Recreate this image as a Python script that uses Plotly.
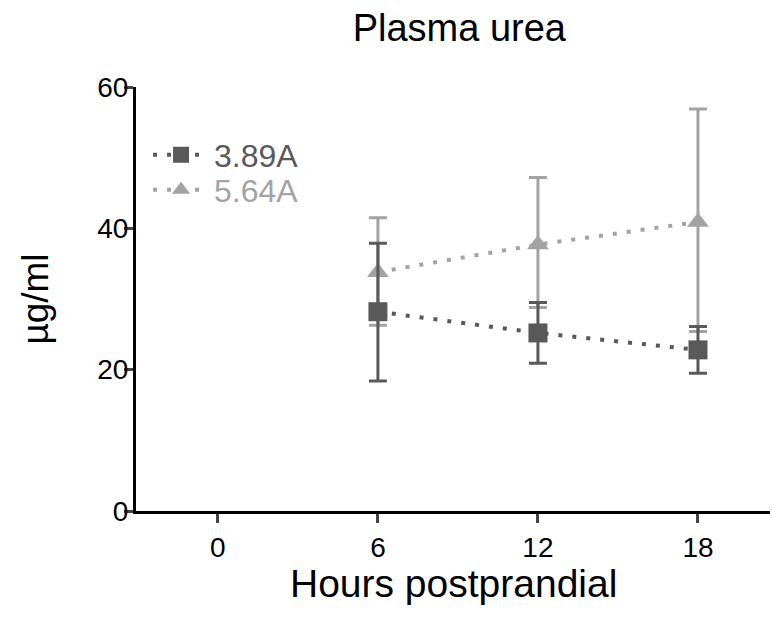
import plotly.graph_objects as go

hours = [6, 12, 18]
s1_name = "3.89A"
s1_mean = [28.2, 25.2, 22.8]
s1_upper = [37.9, 29.5, 26.1]
s1_lower = [18.4, 20.9, 19.5]
s2_name = "5.64A"
s2_mean = [33.8, 37.7, 40.9]
s2_upper = [41.5, 47.2, 56.9]
s2_lower = [26.3, 28.8, 25.4]
x_ticks = [0, 6, 12, 18]
y_ticks = [0, 20, 40, 60]

dark = "#595959"
light = "#a3a3a3"

fig = go.Figure()

def add_series(name, mean, upper, lower, color, symbol, legend):
    fig.add_trace(go.Scatter(
        x=hours, y=mean, mode="lines+markers",
        name=f"<span style='color:{color}'>{name}</span>",
        legend=legend, showlegend=True,
        line=dict(color=color, width=4, dash="4px,10px"),
        marker=dict(symbol=symbol, size=19, color=color),
        error_y=dict(type="data", symmetric=False,
                     array=[u - m for u, m in zip(upper, mean)],
                     arrayminus=[m - l for m, l in zip(mean, lower)],
                     color=color, thickness=3, width=9),
    ))

add_series(s2_name, s2_mean, s2_upper, s2_lower, light, "triangle-up", "legend2")
add_series(s1_name, s1_mean, s1_upper, s1_lower, dark, "square", "legend")

legend_style = dict(xanchor="left", yanchor="middle", font=dict(size=32),
                    bgcolor="rgba(0,0,0,0)", itemwidth=56)

fig.update_layout(
    width=772, height=618,
    showlegend=True,
    margin=dict(l=136, r=2, t=87, b=107),
    paper_bgcolor="white", plot_bgcolor="white",
    font=dict(family="Liberation Sans, Arial, sans-serif", color="black"),
    title=dict(text="Plasma urea", x=0.595, xanchor="center", y=0.955, yanchor="middle",
               font=dict(size=38, color="black")),
    legend=dict(x=0.019, y=0.84, **legend_style),
    legend2=dict(x=0.019, y=0.757, **legend_style),
    xaxis=dict(range=[-3.07, 20.7], tickvals=x_ticks, ticks="outside", ticklen=9, tickwidth=3,
               showline=True, linecolor="black", linewidth=3, showgrid=False, zeroline=False,
               tickfont=dict(size=28)),
    yaxis=dict(range=[0, 60], tickvals=y_ticks, ticks="outside", ticklen=9, tickwidth=3,
               ticklabelstandoff=-10,
               showline=True, linecolor="black", linewidth=3, showgrid=False, zeroline=False,
               tickfont=dict(size=28), title=dict(text="µg/ml", font=dict(size=37), standoff=38)),
    annotations=[dict(text="Hours postprandial", xref="paper", yref="paper", x=0.5, y=-0.172,
                      xanchor="center", yanchor="middle", showarrow=False,
                      font=dict(size=39, color="black"))],
)

fig.write_html("out.html")
